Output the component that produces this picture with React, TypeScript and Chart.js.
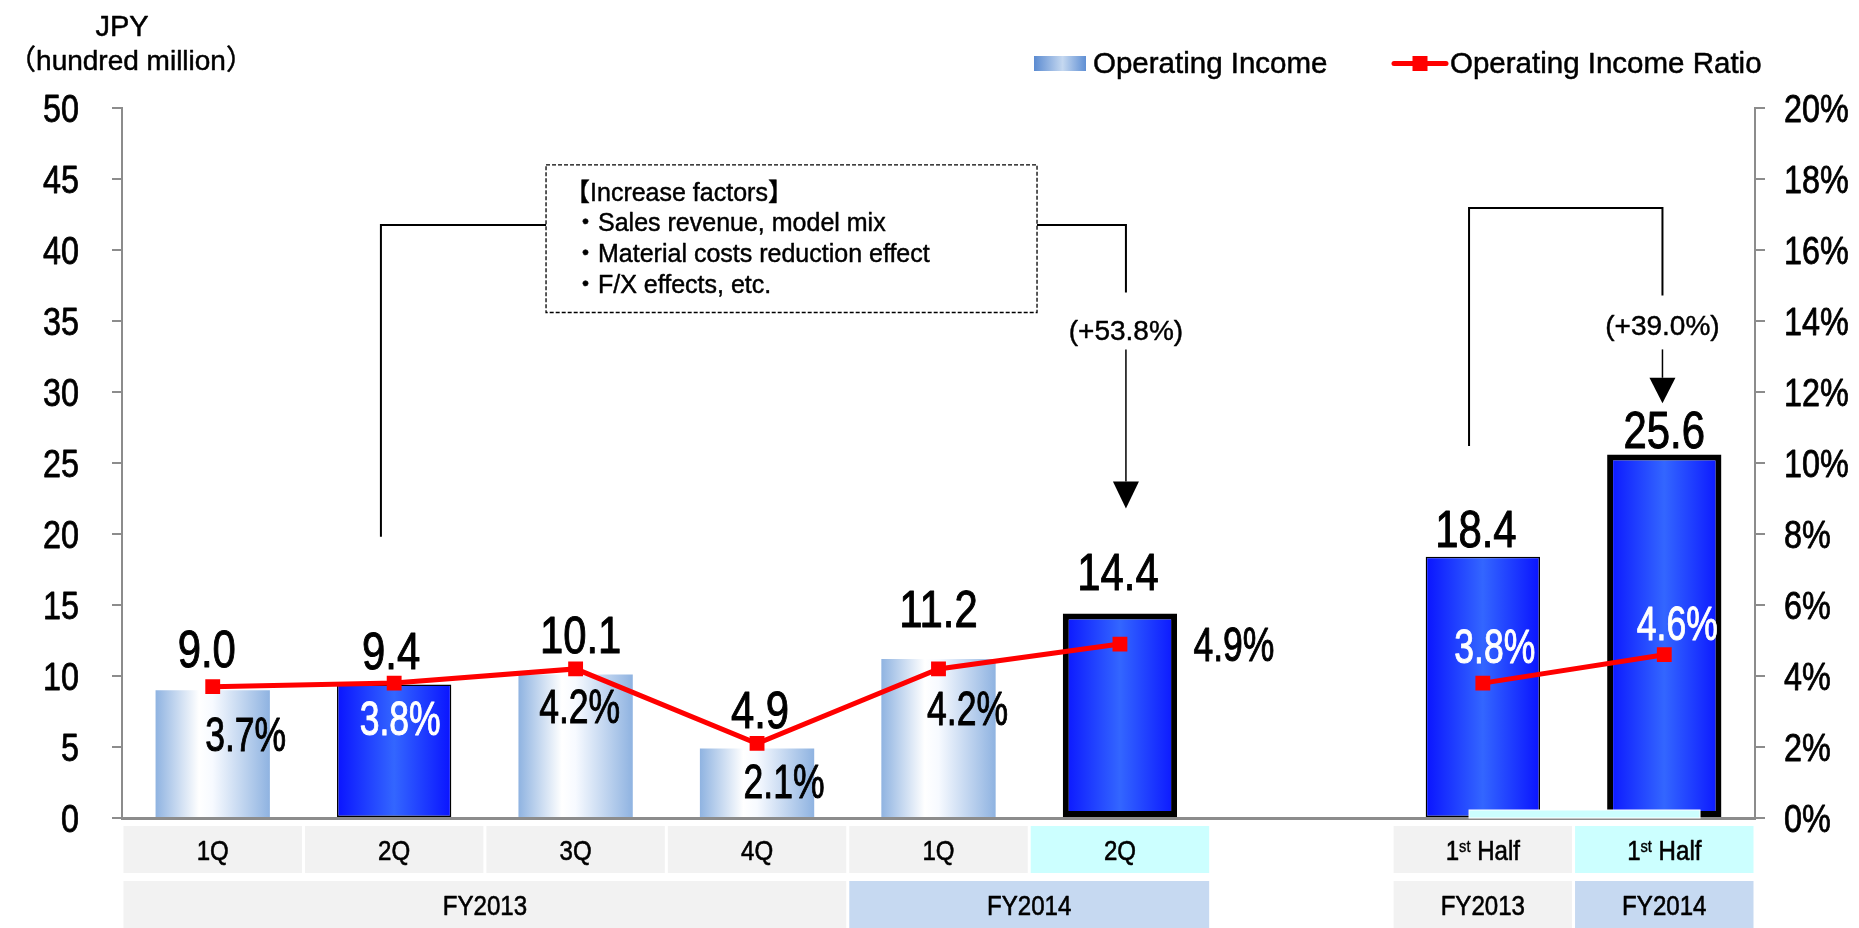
import React, { useEffect, useRef } from 'react';
import { Chart, registerables } from 'chart.js';

Chart.register(...registerables);

// ---------- DATA ----------
const categories = ['1Q', '2Q', '3Q', '4Q', '1Q', '2Q', '', '1st Half', '1st Half'];
const fiscalYearGroups = [
  { label: 'FY2013', from: 0, to: 3, fill: 'gray' },
  { label: 'FY2014', from: 4, to: 5, fill: 'blue' },
  { label: 'FY2013', from: 7, to: 7, fill: 'gray' },
  { label: 'FY2014', from: 8, to: 8, fill: 'blue' },
];
const operatingIncome: (number | null)[] = [9.0, 9.4, 10.1, 4.9, 11.2, 14.4, null, 18.4, 25.6];
const operatingIncomeRatio: (number | null)[] = [3.7, 3.8, 4.2, 2.1, 4.2, 4.9, null, 3.8, 4.6];
const seriesNames = ['Operating Income', 'Operating Income Ratio'];
const axisTitleLines = ['JPY', '（hundred million）'];
const increaseFactors = ['【Increase factors】', '・Sales revenue, model mix', '・Material costs reduction effect', '・F/X effects, etc.'];
const growthLabels = ['(+53.8%)', '(+39.0%)'];
const leftAxis = { min: 0, max: 50, step: 5 };
const rightAxis = { min: 0, max: 20, step: 2 };

// ---------- STYLE / LAYOUT ----------
const barKind = ['light', 'dark', 'light', 'light', 'light', 'dark', '', 'dark', 'dark'];
const barBorder = [0, 1.5, 0, 0, 0, 6, 0, 1.5, 6];
const headerFill = ['gray', 'gray', 'gray', 'gray', 'gray', 'cyan', '', 'gray', 'cyan'];
const ratioTextColor = ['#000', '#fff', '#000', '#000', '#000', '#000', '', '#fff', '#fff'];
// value label nudges: [dx, gap above bar top]
const valueNudge = [[-6, 23], [-3, 16], [5, 22], [3, 20], [0, 32], [-2, 24], [0, 0], [-7, 10], [0, 6]];
// ratio label nudges relative to the line point: [dx, dy] of text centre
const ratioNudge = [[33, 47], [6, 35], [4, 37], [27, 37], [29, 39], [114, 0], [0, 0], [12, -37], [13, -32]];

const SANS = "'Liberation Sans', Arial, 'Noto Sans CJK JP', sans-serif";
const BAR_PCT = 0.63;
const FILLS: Record<string, string> = { gray: '#f2f2f2', cyan: '#ccffff', blue: '#c6d9f1' };

function lightGradient(ctx: CanvasRenderingContext2D, x0: number, x1: number) {
  const g = ctx.createLinearGradient(x0, 0, x1, 0);
  g.addColorStop(0, '#8fb3e1');
  g.addColorStop(0.38, '#ffffff');
  g.addColorStop(0.5, '#f7faff');
  g.addColorStop(1, '#8fb3e1');
  return g;
}
function darkGradient(ctx: CanvasRenderingContext2D, x0: number, x1: number) {
  const g = ctx.createLinearGradient(x0, 0, x1, 0);
  g.addColorStop(0, '#0a14ff');
  g.addColorStop(0.5, '#3366ff');
  g.addColorStop(1, '#0a14ff');
  return g;
}

const cap = (size: number) => size * 0.716;

// condensed text: Liberation Sans squeezed horizontally (the source uses a narrow gothic face)
function narrowText(
  ctx: CanvasRenderingContext2D, text: string, x: number, baseline: number,
  size: number, sx: number, align: CanvasTextAlign = 'center', color = '#000', weight = 0,
) {
  ctx.save();
  ctx.translate(x, baseline);
  ctx.scale(sx, 1);
  ctx.font = `${size}px ${SANS}`;
  ctx.textAlign = align;
  ctx.textBaseline = 'alphabetic';
  ctx.fillStyle = color;
  ctx.fillText(text, 0, 0);
  if (weight > 0) {
    ctx.strokeStyle = color;
    ctx.lineWidth = weight;
    ctx.lineJoin = 'round';
    ctx.strokeText(text, 0, 0);
  }
  ctx.restore();
}
function plainText(
  ctx: CanvasRenderingContext2D, text: string, x: number, baseline: number,
  size: number, align: CanvasTextAlign, weight = 0.5,
) {
  ctx.save();
  ctx.font = `${size}px ${SANS}`;
  ctx.textAlign = align;
  ctx.textBaseline = 'alphabetic';
  ctx.fillStyle = '#000';
  ctx.fillText(text, x, baseline);
  if (weight > 0) {
    ctx.strokeStyle = '#000';
    ctx.lineWidth = weight;
    ctx.lineJoin = 'round';
    ctx.strokeText(text, x, baseline);
  }
  ctx.restore();
}
function narrowWidth(ctx: CanvasRenderingContext2D, text: string, size: number, sx: number) {
  ctx.save();
  ctx.font = `${size}px ${SANS}`;
  const w = ctx.measureText(text).width * sx;
  ctx.restore();
  return w;
}

const TICK_SIZE = 38.5, TICK_SX = 0.84;
const VALUE_SIZE = 51, VALUE_SX = 0.82;
const RATIO_SIZE = 48, RATIO_SX = 0.74;
const TABLE_SIZE = 28, TABLE_SX = 0.86;

const decorPlugin = {
  id: 'decor',
  beforeDraw(chart: any) {
    const ctx = chart.ctx as CanvasRenderingContext2D;
    ctx.save();
    ctx.fillStyle = '#fff';
    ctx.fillRect(0, 0, chart.width, chart.height);
    ctx.restore();
  },
  afterDraw(chart: any) {
    const ctx = chart.ctx as CanvasRenderingContext2D;
    const xs = chart.scales.x;
    const ys = chart.scales.y;
    const ys1 = chart.scales.y1;
    const px = (i: number) => xs.getPixelForValue(i);
    const py = (v: number) => ys.getPixelForValue(v);
    const barMeta = chart.getDatasetMeta(0);
    const lineMeta = chart.getDatasetMeta(1);
    ctx.save();

    // axis tick labels (condensed), positioned by the library's scales
    ys.ticks.forEach((t: any) => {
      const y = ys.getPixelForValue(t.value);
      narrowText(ctx, String(t.value), ys.right - 10 - 33, y + cap(TICK_SIZE) / 2, TICK_SIZE, TICK_SX, 'right', '#000', 0.8);
    });
    ys1.ticks.forEach((t: any) => {
      const y = ys1.getPixelForValue(t.value);
      narrowText(ctx, `${t.value}%`, ys1.left + 10 + 19, y + cap(TICK_SIZE) / 2, TICK_SIZE, TICK_SX, 'left', '#000', 0.8);
    });

    // cyan strip at bottom of half-year bars
    {
      const x0 = px(6.924), x1 = px(8.197);
      ctx.fillStyle = '#ccffff';
      ctx.strokeStyle = '#ffffff';
      ctx.lineWidth = 1;
      ctx.fillRect(x0, py(0) - 8, x1 - x0, 8);
      ctx.strokeRect(x0, py(0) - 8, x1 - x0, 8);
    }

    // value labels
    operatingIncome.forEach((v, i) => {
      if (v == null) return;
      const el = barMeta.data[i];
      narrowText(ctx, v.toFixed(1), el.x + valueNudge[i][0], el.y - valueNudge[i][1], VALUE_SIZE, VALUE_SX, 'center', '#000', 1);
    });

    // ratio labels
    operatingIncomeRatio.forEach((v, i) => {
      if (v == null) return;
      const el = lineMeta.data[i];
      narrowText(ctx, v.toFixed(1) + '%', el.x + ratioNudge[i][0], el.y + ratioNudge[i][1] + cap(RATIO_SIZE) / 2,
        RATIO_SIZE, RATIO_SX, 'center', ratioTextColor[i], 1);
    });

    // annotations
    ctx.strokeStyle = '#000';
    ctx.fillStyle = '#000';
    ctx.lineWidth = 2;
    const arrowHead = (x: number, tipY: number, topY: number) => {
      ctx.beginPath();
      ctx.moveTo(x - 13, topY);
      ctx.lineTo(x + 13, topY);
      ctx.lineTo(x, tipY);
      ctx.closePath();
      ctx.fill();
    };
    // bracket 1
    {
      const xl = px(0.927), boxL = px(1.837), boxR = px(4.543), xr = px(5.033);
      const yTop = py(41.76);
      ctx.beginPath();
      ctx.moveTo(xl, py(19.8));
      ctx.lineTo(xl, yTop);
      ctx.lineTo(boxL, yTop);
      ctx.moveTo(boxR, yTop);
      ctx.lineTo(xr, yTop);
      ctx.lineTo(xr, py(37.0));
      ctx.stroke();
      ctx.lineWidth = 1.5;
      ctx.beginPath();
      ctx.moveTo(xr, py(33.0));
      ctx.lineTo(xr, py(23.7));
      ctx.stroke();
      arrowHead(xr, py(21.8), py(23.7));
      // dashed box
      ctx.lineWidth = 1.3;
      ctx.setLineDash([4, 2]);
      const bt = py(46.0), bb = py(35.6);
      ctx.strokeRect(boxL, bt, boxR - boxL, bb - bt);
      ctx.setLineDash([]);
      const centers = [192, 222, 253, 284];
      increaseFactors.forEach((t, k) => {
        const x = k === 0 ? boxL + 19 : boxL + 27;
        plainText(ctx, t, x, centers[k] + cap(25) / 2, 25, 'left', 0.45);
      });
      plainText(ctx, growthLabels[0], xr, py(34.4) + cap(28) / 2, 28, 'center', 0.45);
    }
    // bracket 2
    {
      ctx.strokeStyle = '#000';
      ctx.fillStyle = '#000';
      ctx.lineWidth = 2;
      const xl = px(6.924), xr = px(7.99);
      const yTop = py(42.96);
      ctx.beginPath();
      ctx.moveTo(xl, py(26.2));
      ctx.lineTo(xl, yTop);
      ctx.lineTo(xr, yTop);
      ctx.lineTo(xr, py(36.8));
      ctx.stroke();
      ctx.lineWidth = 1.5;
      ctx.beginPath();
      ctx.moveTo(xr, py(33.0));
      ctx.lineTo(xr, py(31.0));
      ctx.stroke();
      arrowHead(xr, py(29.2), py(31.0));
      plainText(ctx, growthLabels[1], xr, py(34.7) + cap(28) / 2, 28, 'center', 0.45);
    }

    // category table
    const left = (i: number) => px(i - 0.5);
    const right = (i: number) => px(i + 0.5);
    const r1Top = 826, r1H = 47, r2Top = 881, r2H = 47;
    categories.forEach((c, i) => {
      if (!c) return;
      const x0 = left(i) + 1.5, x1 = right(i) - 1.5;
      ctx.fillStyle = FILLS[headerFill[i]];
      ctx.fillRect(x0, r1Top, x1 - x0, r1H);
      const cx = (x0 + x1) / 2;
      const base = r1Top + r1H / 2 + cap(TABLE_SIZE) / 2;
      if (c.startsWith('1st')) {
        const a = '1', b = 'st', d = c.slice(3);
        const wa = narrowWidth(ctx, a, TABLE_SIZE, TABLE_SX);
        const wb = narrowWidth(ctx, b, 17, TABLE_SX);
        const wd = narrowWidth(ctx, d, TABLE_SIZE, TABLE_SX);
        let x = cx - (wa + wb + wd) / 2;
        narrowText(ctx, a, x, base, TABLE_SIZE, TABLE_SX, 'left', '#000', 0.6);
        x += wa;
        narrowText(ctx, b, x, base - 8, 17, TABLE_SX, 'left', '#000', 0.4);
        x += wb;
        narrowText(ctx, d, x, base, TABLE_SIZE, TABLE_SX, 'left', '#000', 0.6);
      } else {
        narrowText(ctx, c, cx, base, TABLE_SIZE, TABLE_SX, 'center', '#000', 0.6);
      }
    });
    fiscalYearGroups.forEach((g) => {
      const x0 = left(g.from) + 1.5, x1 = right(g.to) - 1.5;
      ctx.fillStyle = FILLS[g.fill];
      ctx.fillRect(x0, r2Top, x1 - x0, r2H);
      narrowText(ctx, g.label, (x0 + x1) / 2, r2Top + 24 + cap(TABLE_SIZE) / 2, TABLE_SIZE, TABLE_SX, 'center', '#000', 0.6);
    });

    // legend
    {
      const g = ctx.createLinearGradient(1034, 0, 1086, 0);
      g.addColorStop(0, '#5b8bd1');
      g.addColorStop(0.55, '#c5d8f0');
      g.addColorStop(1, '#5f8fd4');
      ctx.fillStyle = g;
      ctx.fillRect(1034, 56, 52, 15);
      plainText(ctx, seriesNames[0], 1093, 73, 29.5, 'left', 0.5);
      ctx.strokeStyle = '#ff0000';
      ctx.lineWidth = 5;
      ctx.lineCap = 'round';
      ctx.beginPath();
      ctx.moveTo(1394, 63.5);
      ctx.lineTo(1446, 63.5);
      ctx.stroke();
      ctx.lineCap = 'butt';
      ctx.fillStyle = '#ff0000';
      ctx.fillRect(1412.5, 56, 15, 15);
      plainText(ctx, seriesNames[1], 1450, 73, 29.5, 'left', 0.5);
    }

    // axis title
    plainText(ctx, axisTitleLines[0], 122, 36, 29, 'center', 0.5);
    plainText(ctx, axisTitleLines[1], 131, 70, 28, 'center', 0.5);

    ctx.restore();
  },
};

export default function App() {
  const ref = useRef<HTMLCanvasElement>(null);
  useEffect(() => {
    const canvas = ref.current!;
    const chart = new Chart(canvas, {
      data: {
        labels: categories,
        datasets: [
          {
            type: 'bar',
            label: seriesNames[0],
            data: operatingIncome,
            yAxisID: 'y',
            order: 1,
            barPercentage: BAR_PCT,
            categoryPercentage: 1,
            borderSkipped: false,
            borderColor: '#000',
            borderWidth: (c: any) => barBorder[c.dataIndex] ?? 0,
            backgroundColor: (c: any) => {
              const chart = c.chart;
              const xs = chart.scales?.x;
              const i = c.dataIndex;
              if (!xs || i == null || c.type !== 'data') return '#8fb3e1';
              const cx = xs.getPixelForValue(i);
              const w = (xs.width / categories.length) * BAR_PCT;
              if (!Number.isFinite(cx) || !Number.isFinite(w) || w <= 0) return '#8fb3e1';
              return barKind[i] === 'dark'
                ? darkGradient(chart.ctx, cx - w / 2, cx + w / 2)
                : lightGradient(chart.ctx, cx - w / 2, cx + w / 2);
            },
          } as any,
          {
            type: 'line',
            label: seriesNames[1],
            data: operatingIncomeRatio,
            yAxisID: 'y1',
            order: 0,
            borderColor: '#ff0000',
            backgroundColor: '#ff0000',
            borderWidth: 5,
            tension: 0,
            spanGaps: false,
            pointStyle: 'rect',
            pointRadius: 10.5,
            pointHoverRadius: 10.5,
            pointBackgroundColor: '#ff0000',
            pointBorderColor: '#ff0000',
            pointBorderWidth: 0,
          } as any,
        ],
      },
      options: {
        responsive: true,
        maintainAspectRatio: false,
        animation: false,
        events: [],
        layout: { padding: { top: 108, left: 0, right: 0, bottom: 0 } },
        plugins: { legend: { display: false }, tooltip: { enabled: false } },
        scales: {
          x: {
            type: 'category',
            offset: true,
            z: 1,
            grid: { display: false, drawTicks: false },
            ticks: { display: false },
            border: { display: true, color: '#8c8c8c', width: 3 },
            afterFit: (s: any) => { s.height = 110; },
          },
          y: {
            position: 'left',
            min: leftAxis.min,
            max: leftAxis.max,
            ticks: { stepSize: leftAxis.step, color: 'rgba(0,0,0,0)', font: { family: SANS, size: 38 }, padding: 33 },
            grid: { drawOnChartArea: false, drawTicks: true, tickLength: 10, color: '#8c8c8c', lineWidth: 2 },
            border: { color: '#8c8c8c', width: 2 },
            afterFit: (s: any) => { s.width = 122; },
          },
          y1: {
            position: 'right',
            min: rightAxis.min,
            max: rightAxis.max,
            ticks: { stepSize: rightAxis.step, color: 'rgba(0,0,0,0)', font: { family: SANS, size: 38 }, padding: 19, callback: (v: any) => `${v}%` },
            grid: { drawOnChartArea: false, drawTicks: true, tickLength: 10, color: '#8c8c8c', lineWidth: 2 },
            border: { color: '#8c8c8c', width: 2 },
            afterFit: (s: any) => { s.width = 104; },
          },
        },
      } as any,
      plugins: [decorPlugin],
    } as any);
    return () => chart.destroy();
  }, []);
  return (
    <div style={{ position: 'fixed', left: 0, top: 0, width: 1859, height: 928, background: '#fff' }}>
      <canvas ref={ref} />
    </div>
  );
}
